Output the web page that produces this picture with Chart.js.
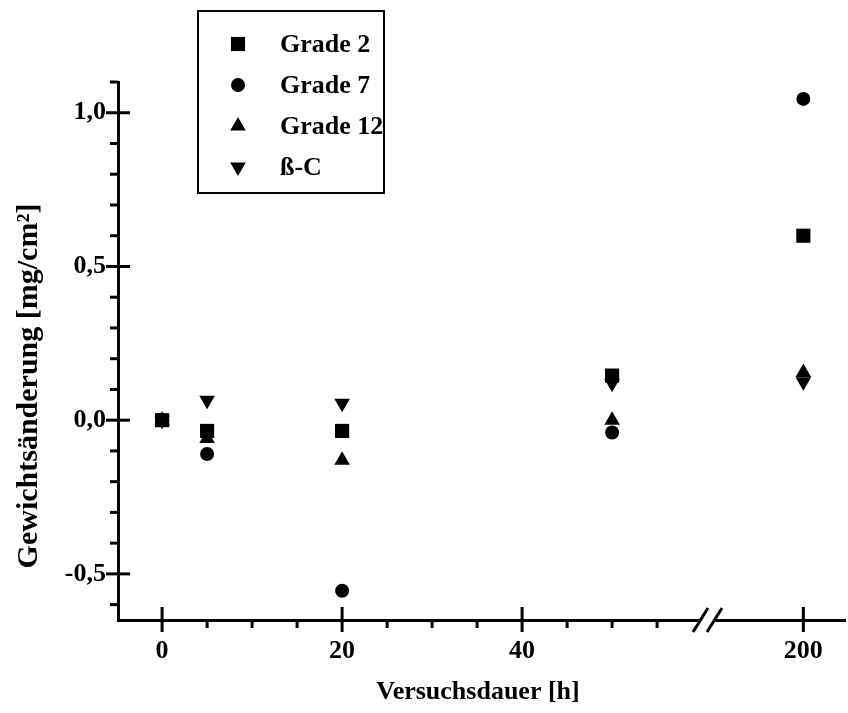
<!DOCTYPE html>
<html lang="de">
<head>
  <meta charset="UTF-8">
  <title>Gewichtsänderung</title>
  <script src="https://cdn.jsdelivr.net/npm/chart.js"></script>
  <style>
    body { margin: 0; background: #fff; }
  </style>
</head>
<body>
  <canvas id="chart" width="848" height="713"></canvas>

  <script>
    // test duration [h] and weight change [mg/cm2]
    const hours = [0, 5, 20, 50, 200];
    const grade2 = [0, -0.035, -0.035, 0.145, 0.6];
    const grade7 = [0, -0.11, -0.555, -0.04, 1.045];
    const grade12 = [0, -0.06, -0.13, 0.0, 0.155];
    const betaC = [0, 0.065, 0.055, 0.12, 0.125];

    const seriesNames = ['Grade 2', 'Grade 7', 'Grade 12', '\u00DF-C'];
    const xTickLabels = ['0', '20', '40', '200'];
    const yTickLabels = ['-0,5', '0,0', '0,5', '1,0'];

    // axis break: everything past 60 h is squeezed to one slot
    const breakAt = 60.6;
    const farSlot = 71.25;
    const axisPos = h => (h > 60 ? farSlot : h);

    const FONT = "'Liberation Serif', 'Times New Roman', serif";

    const pts = vals => vals.map((v, i) => ({ x: axisPos(hours[i]), y: v }));

    const styles = [
      { pointStyle: 'rect', radius: 10, rotation: 0 },
      { pointStyle: 'circle', radius: 7, rotation: 0 },
      { pointStyle: 'triangle', radius: 9, rotation: 0 },
      { pointStyle: 'triangle', radius: 9, rotation: 180 }
    ];

    const datasets = [grade2, grade7, grade12, betaC].map((vals, i) => ({
      label: seriesNames[i],
      data: pts(vals),
      pointStyle: styles[i].pointStyle,
      pointRadius: styles[i].radius,
      pointRotation: styles[i].rotation,
      pointBackgroundColor: '#000',
      pointBorderColor: '#000',
      pointBorderWidth: 0,
      showLine: false
    }));

    const xMinor = [];
    for (let v = 0; v <= 55; v += 5) xMinor.push(v);
    xMinor.push(farSlot);

    const yMinor = [];
    for (let k = -6; k <= 11; k++) yMinor.push(k / 10);

    const isXMajor = v => v === farSlot || v % 20 === 0;
    const isYMajor = v => Math.abs(v * 2 - Math.round(v * 2)) < 1e-6;

    const decorations = {
      id: 'decorations',
      afterDraw(chart) {
        const ctx = chart.ctx;
        const xs = chart.scales.x, ys = chart.scales.y;
        const area = chart.chartArea;
        ctx.save();
        ctx.strokeStyle = '#000';
        ctx.lineWidth = 3;

        // axis line runs on to the right edge
        ctx.beginPath();
        ctx.moveTo(area.right - 2, area.bottom + 0.5);
        ctx.lineTo(846, area.bottom + 0.5);
        ctx.stroke();

        // x ticks
        xMinor.forEach(v => {
          const px = xs.getPixelForValue(v);
          ctx.beginPath();
          if (isXMajor(v)) {
            ctx.moveTo(px, area.bottom - 13);
            ctx.lineTo(px, area.bottom + 12);
          } else {
            ctx.moveTo(px, area.bottom);
            ctx.lineTo(px, area.bottom + 8);
          }
          ctx.stroke();
        });

        // y ticks
        yMinor.forEach(v => {
          const py = ys.getPixelForValue(v);
          ctx.beginPath();
          if (isYMajor(v)) {
            ctx.moveTo(area.left - 12, py);
            ctx.lineTo(area.left + 12, py);
          } else {
            ctx.moveTo(area.left - 8, py);
            ctx.lineTo(area.left, py);
          }
          ctx.stroke();
        });

        // break mark
        const cx = xs.getPixelForValue(breakAt);
        const by = area.bottom;
        ctx.fillStyle = '#fff';
        ctx.fillRect(cx - 7, by - 3, 14, 7);
        ctx.lineWidth = 3;
        [-7, 7].forEach(dx => {
          ctx.beginPath();
          ctx.moveTo(cx + dx - 7.5, by + 12);
          ctx.lineTo(cx + dx + 7.5, by - 12);
          ctx.stroke();
        });

        // y title
        ctx.fillStyle = '#000';
        ctx.translate(29, 386);
        ctx.rotate(-Math.PI / 2);
        ctx.textAlign = 'center';
        ctx.textBaseline = 'middle';
        ctx.font = 'bold 30px ' + FONT;
        ctx.fillText('Gewichts\u00E4nderung [mg/cm\u00B2]', 0, 0);
        ctx.restore();

        // legend box
        ctx.save();
        ctx.strokeStyle = '#000';
        ctx.lineWidth = 2;
        ctx.fillStyle = '#fff';
        ctx.fillRect(198, 11, 186, 182);
        ctx.strokeRect(198, 11, 186, 182);
        ctx.font = 'bold 26px ' + FONT;
        ctx.textBaseline = 'middle';
        ctx.textAlign = 'left';
        const rows = [44, 85, 126, 167];
        chart.data.datasets.forEach((ds, i) => {
          ctx.fillStyle = '#000';
          Chart.helpers.drawPoint(ctx, {
            pointStyle: ds.pointStyle,
            radius: ds.pointRadius,
            rotation: ds.pointRotation,
            borderWidth: 0
          }, 238, rows[i]);
          ctx.fillStyle = '#000';
          ctx.fillText(ds.label, 280, rows[i] + 1);
        });
        ctx.restore();
      }
    };

    new Chart(document.getElementById('chart').getContext('2d'), {
      type: 'scatter',
      data: { datasets },
      plugins: [decorations],
      options: {
        responsive: false,
        animation: false,
        layout: { padding: { top: 82, right: 3, left: 0, bottom: 0 } },
        plugins: {
          legend: { display: false },
          tooltip: { enabled: false }
        },
        scales: {
          x: {
            type: 'linear',
            min: -4.9,
            max: 75.1,
            afterBuildTicks: scale => { scale.ticks = xMinor.map(v => ({ value: v })); },
            afterFit: scale => { scale.height = 93; },
            grid: { display: false },
            border: { display: true, color: '#000', width: 3 },
            ticks: {
              autoSkip: false,
              maxRotation: 0,
              padding: 8,
              color: '#000',
              font: { family: FONT, size: 26, weight: 'bold' },
              callback: v => {
                if (v === farSlot) return xTickLabels[3];
                if (v === 0) return xTickLabels[0];
                if (v === 20) return xTickLabels[1];
                if (v === 40) return xTickLabels[2];
                return '';
              }
            },
            title: {
              display: true,
              text: 'Versuchsdauer [h]',
              color: '#000',
              font: { family: FONT, size: 26, weight: 'bold' },
              padding: { top: 0, bottom: 5 }
            }
          },
          y: {
            type: 'linear',
            min: -0.65,
            max: 1.1,
            afterBuildTicks: scale => { scale.ticks = yMinor.map(v => ({ value: v })); },
            afterFit: scale => { scale.width = 118; },
            grid: { display: false },
            border: { display: true, color: '#000', width: 3 },
            ticks: {
              autoSkip: false,
              padding: 4,
              color: '#000',
              font: { family: FONT, size: 26, weight: 'bold' },
              callback: v => {
                if (!isYMajor(v)) return '';
                const idx = Math.round(v * 2) + 1;
                return yTickLabels[idx];
              }
            }
          }
        }
      }
    });
  </script>
</body>
</html>
